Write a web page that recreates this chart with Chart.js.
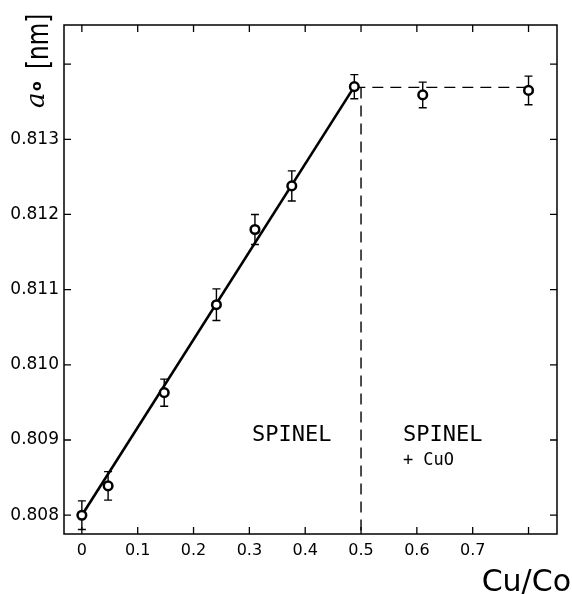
<!DOCTYPE html>
<html>
<head>
<meta charset="utf-8">
<script src="https://cdn.jsdelivr.net/npm/chart.js@4.4.1/dist/chart.umd.min.js"></script>
<style>
  html, body { margin: 0; padding: 0; background: #fff; }
  #wrap { width: 572px; height: 594px; position: relative; }
</style>
</head>
<body>
<div id="wrap"><canvas id="c"></canvas></div>
<script>
// ---- data ----
const CU_CO = [0, 0.047, 0.1475, 0.241, 0.310, 0.376, 0.488, 0.6105, 0.800];
const A0_NM = [0.80800, 0.80839, 0.80963, 0.81080, 0.81180, 0.81238, 0.81370, 0.81359, 0.81365];
const A0_ERR = [0.00019, 0.00019, 0.00018, 0.00021, 0.00020, 0.00020, 0.00016, 0.00017, 0.00019];

const FIT_X = [0, 0.488];
const FIT_Y = [0.80800, 0.81370];
const PLATEAU_X = [0.488, 0.800];
const PLATEAU_Y = [0.81369, 0.81369];
const BOUNDARY_X = 0.5;

const X_TICKS = [0, 0.1, 0.2, 0.3, 0.4, 0.5, 0.6, 0.7, 0.8];
const X_TICK_LABELS = ['0', '0.1', '0.2', '0.3', '0.4', '0.5', '0.6', '0.7', ''];
const Y_TICKS = [0.808, 0.809, 0.810, 0.811, 0.812, 0.813, 0.814];
const Y_TICK_LABELS = ['0.808', '0.809', '0.810', '0.811', '0.812', '0.813', ''];

const X_MIN = -0.032, X_MAX = 0.851;
const Y_MIN = 0.80775, Y_MAX = 0.81452;

const REGION_LABELS = [
  { text: 'SPINEL', x: 0.376, y: 0.80906, align: 'center', font: '22px "DejaVu Sans Mono"' },
  { text: 'SPINEL', x: 0.575, y: 0.80906, align: 'left', font: '22px "DejaVu Sans Mono"' },
  { text: '+ CuO', x: 0.575, y: 0.80872, align: 'left', font: '17px "DejaVu Sans Mono"' }
];

const pts = (xs, ys) => xs.map((x, i) => ({ x: x, y: ys[i] }));

const framePlugin = {
  id: 'frame',
  beforeDatasetsDraw(chart) {
    const ctx = chart.ctx;
    const xs = chart.scales.x, ys = chart.scales.y;
    ctx.save();
    ctx.strokeStyle = '#000';
    ctx.lineWidth = 1.4;
    CU_CO.forEach((x, i) => {
      const px = xs.getPixelForValue(x);
      const top = ys.getPixelForValue(A0_NM[i] + A0_ERR[i]);
      const bot = ys.getPixelForValue(A0_NM[i] - A0_ERR[i]);
      ctx.beginPath();
      ctx.moveTo(px, top); ctx.lineTo(px, bot);
      ctx.moveTo(px - 4, top); ctx.lineTo(px + 4, top);
      ctx.moveTo(px - 4, bot); ctx.lineTo(px + 4, bot);
      ctx.stroke();
    });
    ctx.restore();
  },
  afterDraw(chart) {
    const ctx = chart.ctx;
    const a = chart.chartArea;
    const xs = chart.scales.x, ys = chart.scales.y;
    ctx.save();
    ctx.strokeStyle = '#000';
    ctx.lineWidth = 1.5;
    ctx.strokeRect(a.left, a.top, a.right - a.left, a.bottom - a.top);
    // inward ticks on all four sides
    ctx.lineWidth = 1.3;
    const TL = 7;
    X_TICKS.forEach(v => {
      const px = xs.getPixelForValue(v);
      ctx.beginPath();
      ctx.moveTo(px, a.bottom); ctx.lineTo(px, a.bottom - TL);
      ctx.moveTo(px, a.top); ctx.lineTo(px, a.top + TL);
      ctx.stroke();
    });
    Y_TICKS.forEach(v => {
      const py = ys.getPixelForValue(v);
      ctx.beginPath();
      ctx.moveTo(a.left, py); ctx.lineTo(a.left + TL, py);
      ctx.moveTo(a.right, py); ctx.lineTo(a.right - TL, py);
      ctx.stroke();
    });
    // region labels
    ctx.fillStyle = '#000';
    ctx.textBaseline = 'middle';
    REGION_LABELS.forEach(l => {
      ctx.font = l.font;
      ctx.textAlign = l.align;
      ctx.fillText(l.text, xs.getPixelForValue(l.x), ys.getPixelForValue(l.y));
    });
    // x axis title
    ctx.font = '30px "DejaVu Sans"';
    ctx.textAlign = 'right';
    ctx.textBaseline = 'alphabetic';
    ctx.fillText('Cu/Co', 571, 591);
    // y axis title (rotated)
    ctx.save();
    ctx.translate(0, 0);
    ctx.rotate(-Math.PI / 2);
    // in rotated frame: x' = -y, y' = x
    ctx.textAlign = 'left';
    ctx.textBaseline = 'alphabetic';
    ctx.font = 'italic 26px "DejaVu Serif"';
    ctx.fillText('a', -108, 44);
    ctx.font = 'bold 14px "DejaVu Sans"';
    ctx.fillText('o', -91, 41);
    ctx.save();
    ctx.translate(-69, 48);
    ctx.scale(0.77, 1);
    ctx.font = '30px "DejaVu Sans"';
    ctx.fillText('[nm]', 0, 0);
    ctx.restore();
    ctx.restore();
    ctx.restore();
  }
};

new Chart(document.getElementById('c'), {
  type: 'scatter',
  data: {
    datasets: [
      {
        data: pts(CU_CO, A0_NM),
        showLine: false,
        pointRadius: 4.3,
        pointBorderWidth: 2.5,
        pointBackgroundColor: '#fff',
        pointBorderColor: '#000'
      },
      {
        data: pts(FIT_X, FIT_Y),
        showLine: true,
        borderColor: '#000',
        borderWidth: 2.6,
        pointRadius: 0
      },
      {
        data: pts(PLATEAU_X, PLATEAU_Y),
        showLine: true,
        borderColor: '#000',
        borderWidth: 1.4,
        borderDash: [11, 7],
        pointRadius: 0
      },
      {
        data: [{ x: BOUNDARY_X, y: PLATEAU_Y[0] }, { x: BOUNDARY_X, y: Y_MIN }],
        showLine: true,
        borderColor: '#000',
        borderWidth: 1.4,
        borderDash: [11, 7],
        pointRadius: 0
      }
    ]
  },
  options: {
    responsive: true,
    maintainAspectRatio: false,
    animation: false,
    events: [],
    layout: { padding: { top: 25, right: 15, left: 0, bottom: 0 } },
    plugins: { legend: { display: false }, tooltip: { enabled: false }, title: { display: false } },
    scales: {
      x: {
        type: 'linear',
        min: X_MIN, max: X_MAX,
        afterBuildTicks(scale) { scale.ticks = X_TICKS.map(v => ({ value: v })); },
        afterFit(scale) { scale.height = 60; },
        grid: { display: false, drawTicks: false },
        border: { display: false },
        ticks: {
          padding: 7,
          color: '#000',
          font: { family: 'DejaVu Sans', size: 16 },
          maxRotation: 0,
          autoSkip: false,
          callback: (v, i) => X_TICK_LABELS[i]
        }
      },
      y: {
        type: 'linear',
        min: Y_MIN, max: Y_MAX,
        afterBuildTicks(scale) { scale.ticks = Y_TICKS.map(v => ({ value: v })); },
        afterFit(scale) { scale.width = 64; },
        grid: { display: false, drawTicks: false },
        border: { display: false },
        ticks: {
          padding: 5,
          color: '#000',
          font: { family: 'DejaVu Sans', size: 17 },
          autoSkip: false,
          callback: (v, i) => Y_TICK_LABELS[i]
        }
      }
    }
  },
  plugins: [framePlugin]
});
</script>
</body>
</html>
